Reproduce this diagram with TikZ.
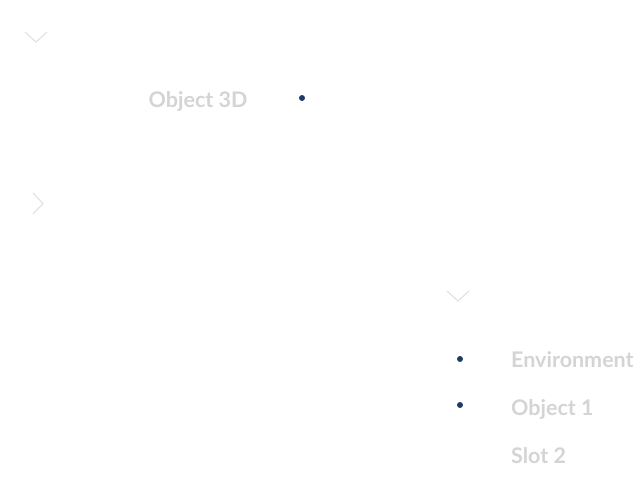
\documentclass[tikz,border=0pt]{standalone}
\usepackage{fontspec}
\setmainfont{Lato}
\usepackage{xcolor}
\usepackage{tikz}
\usetikzlibrary{positioning}
\definecolor{itemgray}{RGB}{212,212,212}
\definecolor{chevrongray}{RGB}{226,226,226}
\definecolor{dotnavy}{RGB}{31,58,104}

\begin{document}
\begin{tikzpicture}[
    x=1pt, y=-1pt,
    itemlabel/.style={font=\bfseries\fontsize{21.5}{25}\selectfont, text=itemgray, anchor=base west, inner sep=0pt},
    bullet/.style={circle, fill=dotnavy, minimum size=6pt, inner sep=0pt},
    chevron/.style={draw=chevrongray, line width=1.2pt}
]
    \useasboundingbox (0,0) rectangle (644,496);

    % chevrons
    \draw[chevron] (25,32) -- (36,42) -- (47,32);
    \draw[chevron] (33,193) -- (43,203.5) -- (33,214);
    \draw[chevron] (447,291) -- (458,301) -- (469,291);

    % items
    \node[itemlabel] (obj3d) at (148.5,107.5) {Object 3D};
    \node[bullet] (dot3d) at (302,98) {};

    \node[itemlabel] (env) at (511,367.5) {Environment};
    \node[bullet] (dotenv) at (460,359) {};
    \node[itemlabel] (obj1) at (511,415.5) {Object 1};
    \node[bullet] (dotobj1) at (460,405) {};
    \node[itemlabel] (slot2) at (511,463.5) {Slot 2};
\end{tikzpicture}
\end{document}
